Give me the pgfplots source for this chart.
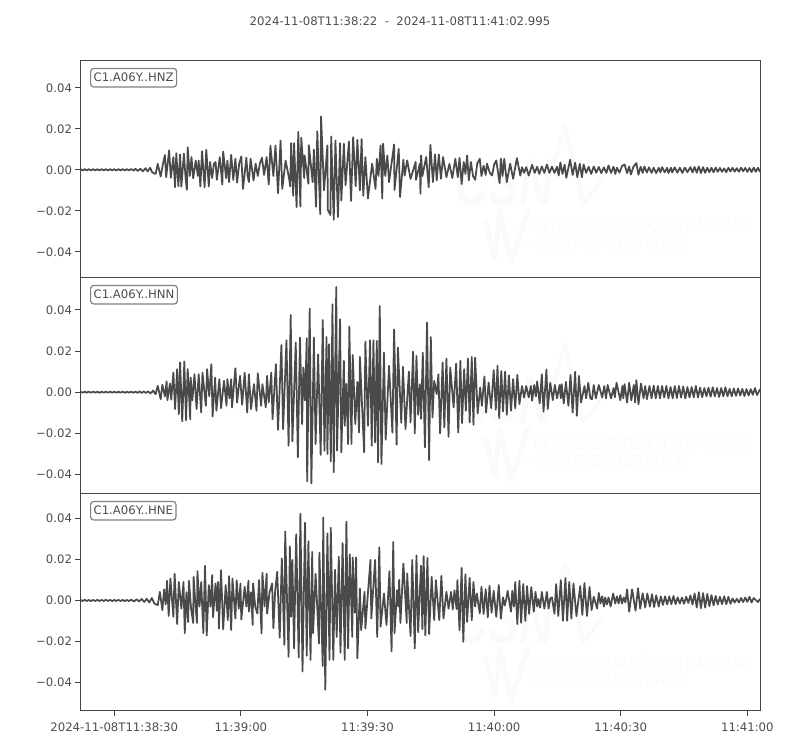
\documentclass[border=0pt]{standalone}
\usepackage{fontspec}
\setmainfont{DejaVu Sans}
\newfontfamily\wmfont{Liberation Sans}
\usepackage{pgfplots}
\pgfplotsset{compat=1.18}
\definecolor{trace}{HTML}{4A4A4A}
\definecolor{spine}{HTML}{454545}
\definecolor{txt}{HTML}{4D4D4D}
\definecolor{wm}{HTML}{FAFAFA}
\newcommand\tfont{\fontsize{11.7pt}{14pt}\selectfont}
% faint logo behind each trace
\newcommand\wmark[1]{%
  \begin{scope}[yshift=#1]
  \draw[wm,line width=5pt,line join=round] (rel axis cs:.595,.270)--(rel axis cs:.610,.094)--(rel axis cs:.617,.309)--(rel axis cs:.634,.07)--(rel axis cs:.659,.316);
  \draw[wm,line width=4pt,line join=round] (rel axis cs:.684,.386)--(rel axis cs:.713,.700)--(rel axis cs:.740,.339)--(rel axis cs:.767,.447);
  \node[wm,font=\wmfont\bfseries\itshape\fontsize{46pt}{50pt}\selectfont,yscale=1.45,transform shape] at (rel axis cs:.623,.438) {CSN};
  \node[wm,anchor=west,font=\wmfont\itshape\fontsize{18pt}{20pt}\selectfont,xscale=.71,transform shape] at (rel axis cs:.664,.247) {CENTRO SISMOLÓGICO NACIONAL};
  \node[wm,anchor=west,font=\wmfont\itshape\fontsize{18pt}{20pt}\selectfont,xscale=.71,transform shape] at (rel axis cs:.664,.158) {UNIVERSIDAD DE CHILE};
  \end{scope}}
\pgfplotsset{seis/.style={
  scale only axis, anchor=south west, width=679.5pt,
  xmin=0, xmax=160.995,
  axis line style={spine,line width=1pt},
  tick style={spine,line width=.8pt},
  tick align=outside, major tick length=5pt,
  ticklabel style={txt,font=\tfont},
  xticklabel style={yshift=-3.5pt},
  ytick={-40,-20,0,20,40},
  yticklabels={−0.04,−0.02,0.00,0.02,0.04},
  ytick pos=left, xtick pos=bottom,
  clip=true,
  trc/.style={trace,line width=1.75pt,line join=round,mark=none},
}}
\newcommand\chan[1]{\node[draw=gray,rounded corners=3pt,line width=1.2pt,fill=white,text=txt,font=\tfont,anchor=north west,inner sep=3pt,text height=10pt,text depth=2.5pt] at (rel axis cs:.014,.966) {#1};}
\begin{document}
\begin{tikzpicture}[x=1pt,y=1pt]
\path[use as bounding box] (0,0) rectangle (800,750);
\node[txt,font=\tfont] at (400,729) {2024-11-08T11:38:22\ \ -\ \ 2024-11-08T11:41:02.995};

\begin{axis}[seis, at={(80.5pt,472.5pt)}, height=217pt, ymin=-52.5, ymax=53.3, xtick=\empty]
\wmark{0pt}
\addplot[trc] coordinates {
(0,.3)(.5,-.3)(1,.3)(1.5,-.3)(2,.3)(2.5,-.3)(3,.3)(3.5,-.3)(4,.3)(4.5,-.3)(5,.3)(5.5,-.3)(6,.3)(6.5,-.3)(7,.3)(7.5,-.3)(8,.3)(8.5,-.3)(9,.3)(9.5,-.3)(10,.3)(10.5,-.3)(11,.3)(11.5,-.3)
(12,.4)(12.6,-.4)(13,.5)(13.6,-.5)(14.2,.5)(14.8,-.7)(15.4,.8)(15.9,-.8)(16.5,1)(17,-1.3)
(17.8,-2)(18.3,2.9)(19,-3.3)(19.5,2.5)(20,7.2)(20.3,-3.6)(21,9.5)(21.4,-3.9)(22,6.2)(22.4,-8.5)
(22.7,8.1)(23.2,-8)(23.6,7.5)(23.9,-8.2)(24.5,7.9)(24.9,-4)(25.2,-9.8)(25.4,11)(25.9,-3)(26.3,6.2)
(26.7,-4.2)(27.3,4.5)(27.8,-3)(28,4.5)(28.4,-8.1)(28.8,9.1)(29.4,-8.5)(29.8,9.8)(30.4,-8.1)(30.7,3.8)
(31.2,-4)(31.6,3)(32,3.8)(32.3,-4.9)(33,6.2)(33.6,-7.2)(33.8,8.9)(34.5,-4)(34.8,4.5)(35.2,-6)
(35.7,7.3)(36.2,-5)(36.7,5.4)(37.1,-6.2)(37.6,3)(38.1,6.5)(38.5,-9.3)(39.3,5.9)(39.6,-3)(39.9,-6)(40.3,5.4)(41,-5.2)
(41.5,3)(42,-3)(42.5,3)(43,5.9)(43.5,-2.5)(44.1,6.2)(44.6,-7.2)(45,11.7)(45.7,-3)(46.2,11.9)
(46.8,-11.4)(47.4,14.3)(47.8,-9.3)(48.6,4.5)(49.4,-4)(49.7,-8.1)(49.9,13)(50.4,-12.6)(50.6,13)(51.2,-18.2)
(51.6,18.5)(52.1,-17.9)(52.3,15.6)(53,-4)(53.1,7)(54,-6.8)(54.1,12)(55,-6)(55.3,9.8)(55.8,-18)
(56.1,18.8)(56.8,-21.7)(57,26)(57.7,-10)(58.5,11.9)(58.6,-19.5)(59.2,-22)(59.4,16.3)(60,-24.4)(60.4,14.3)
(61,-23)(61.5,13)(61.8,-15)(62.4,12.7)(62.8,-7.5)(63.6,13.8)(64.1,-15.2)(64.6,15.9)(65.2,-8)(65.6,14.6)
(66.2,-10)(66.6,15)(67,-12.6)(67.5,6.2)(68.1,-14)(69.1,3)(69.9,-9.3)(70.2,5.4)(70.6,-3)(71.1,11.9)(71.5,-14)
(71.7,12.7)(72.2,-3)(72.7,7)(73.1,-6)(74.3,12.4)(74.4,-9.8)(75.4,10.2)(75.7,-13.3)(76.5,4.9)(76.8,-2.8)
(77.4,4.6)(78.2,-4.4)(79.4,3.8)(79.5,-4.9)(80.4,3)(80.55,-11.7)
(80.7,7)(81,-3)(81.9,6.2)(82.5,-8.5)(82.9,12.2)(83.5,-6)(84,7.5)(84.4,-5.2)(84.9,7.5)(85.4,-4.4)
(85.9,6.2)(86.7,-3.6)(87.4,2.9)(88.1,-4)(88.8,5.4)(89.4,-3.6)(89.8,5.9)(90.3,-7)(90.8,3.8)(91.2,-2)
(91.6,7)(92,-5.2)(92.5,3.8)(93,-3)(93.5,-4.9)(94,3)(94.6,5.4)(95,-3)(95.5,2)(96,-2.5)(96.3,3)(97,-1.5)(97.5,-2.8)
(98,2.5)(98.5,4.6)(99.3,-6.5)(99.6,5.4)(100,-3)(100.4,5.4)(101,-6)(101.8,3)(102.5,-4.4)(103.4,5.7)(104.2,-2.8)
(104.6,1.3)(105.1,-1.5)(105.6,1.3)(106.2,-2.8)(107,2.4)(107.6,-1.5)(108.2,1.5)(108.7,-2)(109.3,1.6)(109.9,-1.5)
(110.5,2.6)(111.1,-1.5)(111.7,1.5)(112.3,-1.5)(112.9,1.5)(113.3,-2.8)(113.7,3.6)(114.2,-2)(114.7,2.5)(115.1,-3.9)
(116,4.9)(116.6,-2.5)(117.2,3.5)(117.7,-3.6)(118.3,3)(118.8,-3.6)(119.2,2.6)(119.8,-1.5)(120.4,1.5)(121,-2)
(121.6,1.6)(122.2,-1.4)(122.8,1.4)(123.4,-1.6)(124,1.2)(124.6,-1.5)(125.1,2.1)(125.7,-1.5)(126.3,1.5)(126.7,-2)
(127.1,1)(127.7,-1.4)(128.3,1.8)(128.9,2.6)(129.5,-1.6)(130,1.6)(130.4,-2.3)(131,1.5)(131.7,3.3)(132.2,-2.4)
(132.7,1.5)(133.2,-1.5)(133.6,1.6)(134.2,-1.3)(134.7,1.2)(135.3,-1.5)(135.8,1)(136.4,-1.6)(137,1)(137.4,-1.3)
(137.8,1.3)(138.4,-1.2)(139,1)(139.3,-1.6)(139.9,1)(140.2,-1.3)(140.8,1.2)(141.4,-1.4)(142,1)(142.6,-1.5)
(143.2,1.1)(143.8,-1.2)(144.5,1.3)(145,-1.3)(145.5,1.4)(146,-1.4)(146.5,1.6)(147,-1.6)(147.5,1.3)(148,-1.5)
(148.5,1)(149,-1.2)(149.5,1)(150,-1.2)(150.5,1.1)(151,-1)(151.5,.9)(152,-1)(152.5,.7)(153,-1.2)
(153.5,1)(154,-.8)(154.5,1)(155,-.9)(155.5,.8)(156,-1)(156.5,1)(157,-.7)(157.5,.9)(158,-1)
(158.5,.9)(159,-1.1)(159.5,1.1)(160,-1)(160.5,1)(161,-1)
};
\chan{C1.A06Y..HNZ}
\end{axis}

\begin{axis}[seis, at={(80.5pt,256.5pt)}, height=216pt, ymin=-49.2, ymax=55.7, xtick=\empty]
\wmark{-2pt}
\addplot[trc] coordinates {
(0,.25)(.5,-.25)(1,.25)(1.5,-.25)(2,.3)(2.5,-.25)(3,.25)(3.5,-.25)(4,.25)(4.5,-.3)(5,.25)(5.5,-.25)(6,.25)(6.5,-.25)(7,.3)(7.5,-.25)(8,.25)(8.5,-.25)(9,.25)(9.5,-.25)(10,.25)(10.5,-.3)(11,.25)(11.5,-.25)
(12,.3)(12.5,-.3)(13,.3)(13.5,-.3)(14,.35)(14.5,-.35)(15,.35)(15.5,-.4)(16,.4)(16.6,-.6)(17.2,.8)
(17.8,-1)(18.3,3.1)(19,-3.4)(19.4,3.6)(20,-2)(20.4,5.2)(20.6,-3.9)(21.2,4.2)(21.5,-3.7)(22,9.5)
(22.4,-8.2)(22.9,11.2)(23.3,-10.7)(23.6,14.5)(24.1,-14.2)(24.6,14.9)(25,-13.6)(25.4,11.2)(26,-13.1)(26.1,7.1)
(26.5,-4)(27,8.7)(27.5,-8.2)(28,8.7)(28.6,-9.9)(28.9,9.5)(29.7,-6.6)(30,11.2)(30.5,-2)(31,13.6)
(31.3,-11.8)(31.9,7.1)(32.2,-9)(32.9,6.3)(33.3,-7.8)(34,5.5)(34.6,-6.6)(34.8,6.3)(35.3,-3)(35.7,6.3)
(35.9,-7.4)(36.7,11.6)(37.1,-5)(37.8,7.9)(38.3,-6.1)(38.9,9.5)(39.5,-9.9)(39.9,8.7)(40.4,-8.2)(41.1,3.9)
(41.7,-9)(42,9.2)(42.8,-6.6)(43.1,3.9)(43.9,-7.4)(44.2,7.9)(44.6,-5)(45.2,9.5)(45.5,-13.1)(46.3,13.6)
(46.8,-18.3)(47.6,22.9)(48,-17.9)(48.8,25.2)(49.3,-26)(49.8,37.5)(50.2,-23.9)(51,24.1)(51.5,-31.7)(52,26.5)
(52.5,-15.5)(52.8,12)(53.2,-4)(53.6,26.2)(53.7,-43.3)(54.3,40.6)(54.7,-44.3)(55.3,26.5)(55.7,-25.2)(56.3,18.4)
(56.9,-30.4)(57.4,35.1)(57.8,-28.4)(58.3,26.8)(58.5,-30)(58.9,23.3)(59.3,-33.6)(59.7,42.7)(60,-38.9)(60.6,51.1)
(60.8,-28.4)(61.5,35.4)(61.8,-29.2)(62.4,15.2)(62.6,-16.3)(63,4)(63.4,-25.2)(63.7,31.8)(64.2,-25.2)(64.5,18.1)
(65.1,-15.5)(65.6,5)(66,-19.6)(66.2,17.1)(67.2,-29.2)(67.5,24.6)(68.1,-16.3)(68.6,25.2)(69,-26)(69.4,25.2)
(69.8,-24.4)(70.2,24.9)(70.5,-34.1)(70.9,41.9)(71.3,-34.9)(71.9,19.2)(72.3,-23.1)(73.1,12.8)(73.9,-19.6)(74.3,30.5)
(74.9,-25.5)(75.2,21.7)(76,-14.9)(76.4,12.3)(77,-17.9)(77.8,10)(78.2,-14.7)(78.8,19.7)(79.2,-20)(79.6,17.6)
(80,-11)(80.4,3.9)(80.7,-13)
(81.1,19.2)(81.6,-26.8)(82.1,33.8)(82.6,-33)(83,26.8)(83.4,-12.3)(83.8,5.5)(84.4,-1)(84.8,8.7)(85.2,-20)
(85.8,14.4)(86.2,-17.1)(86.7,16.3)(87.2,-21.7)(87.6,12)(88.4,-7.4)(89,13.9)(89.5,-19.6)(90,15.2)(90.4,-15)
(90.9,11.2)(91.3,-9)(91.8,16.3)(92.2,-14.7)(92.7,17.1)(93.1,-15.8)(93.5,16.8)(94.1,-10.3)(94.7,2.3)(95.1,-6.6)
(95.7,7.6)(96.1,-9.9)(96.7,4.7)(97.3,-7.8)(97.9,10.7)(98.4,-8.5)(98.8,12.8)(99.2,-12.6)(99.7,10.3)(100.1,-9.4)
(100.6,10)(101,-11)(101.5,8.2)(102,-9)(102.5,6.3)(103,-7.8)(103.5,8.4)(104,-5.8)(104.6,3)(105.1,-2.6)
(105.6,3)(106.2,-2.5)(106.7,3)(107,-4.2)(107.5,3.5)(107.9,-2)(108.2,5.2)(108.8,-5.5)(109.3,8.7)(109.7,-9.5)
(110.4,11)(110.7,-8.2)(111.3,4.6)(111.9,-3.9)(112.4,3.5)(112.9,-3)(113.5,3.5)(113.8,-3)(114,3.9)(114.5,-5.5)
(115,5)(115.6,-6.6)(116.1,8.4)(116.6,-9.9)(117.2,9.9)(117.6,-11.5)(118.1,7.9)(118.6,-5)(119.4,3)(119.8,-3)
(120.3,4.6)(120.8,-3)(121.2,-3.4)(121.6,3.5)(122.1,-3)(122.8,3.5)(123.6,-2.6)(124.1,3)(124.5,-3)(124.9,3.5)
(125.7,-3)(126.3,2)(126.6,-2.5)(127,4.6)(127.9,-3.9)(128.4,3)(128.6,-3)(128.9,3.9)(129.5,-5)(130,4.6)
(130.5,-4)(131.1,3.5)(131.4,-5)(131.7,5.8)(132.2,-5.9)(132.8,4.2)(133.4,-3)(133.8,3)(134.2,-3.4)(134.8,3)
(135.3,-3)(135.8,3.2)(136.3,-3)(136.8,3)(137.3,-3)(137.8,3)(138.3,-2.6)(138.8,3)(139.3,-3)(139.8,2.5)
(140.3,-3)(140.8,3)(141.3,-2.8)(141.8,3)(142.3,-2.6)(142.8,2.8)(143.3,-3)(143.8,2.5)(144.3,-2.6)(144.8,2.5)
(145.3,-2.5)(145.8,3)(146.3,-2.6)(146.8,2.2)(147.3,-2.4)(147.8,2)(148.3,-2)(148.8,2.2)(149.3,-2.2)(149.8,2.4)
(150.3,-2)(150.8,2)(151.3,-2.3)(151.8,2)(152.3,-2)(152.8,2.4)(153.3,-2)(153.8,1.6)(154.3,-2)(154.8,1.8)
(155.3,-1.8)(155.8,1.8)(156.3,-1.6)(156.8,1.6)(157.3,-1.9)(157.8,1.5)(158.3,-1.6)(158.8,1.5)(159.3,-1.3)(159.8,2)
(160.3,-1.4)(160.995,1.4)
};
\chan{C1.A06Y..HNN}
\end{axis}

\begin{axis}[seis, at={(80.5pt,39.5pt)}, height=217pt, ymin=-53.7, ymax=52.2,
  xtick={8,38,68,98,128,158},
  xticklabels={2024-11-08T11:38:30,11:39:00,11:39:30,11:40:00,11:40:30,11:41:00}]
\wmark{-5pt}
\addplot[trc] coordinates {
(0,.25)(.5,-.25)(1,.3)(1.5,-.25)(2,.25)(2.5,-.3)(3,.25)(3.5,-.25)(4,.3)(4.5,-.25)(5,.25)(5.5,-.25)(6,.3)(6.5,-.25)(7,.25)(7.5,-.3)(8,.25)(8.5,-.25)(9,.3)(9.5,-.25)(10,.25)(10.5,-.3)(11,.25)(11.5,-.3)
(12,.4)(12.7,-.5)(13.3,.6)(13.9,-.5)(14.5,.7)(15.1,-.7)(15.7,.8)(16.3,-1)(16.9,1.2)(17.5,-1.5)
(18.3,-2.3)(18.8,4.2)(19.4,-4.7)(19.8,5.4)(20.2,-2)(20.5,9.6)(20.9,-7.6)(21.3,10.7)(22,-8)(22.3,13)
(22.9,-11.5)(23.3,9)(23.9,-4)(24.4,9)(24.7,-16)(25.1,4)(25.5,-10.6)(25.7,9.6)(26.2,-4)(26.7,-11)
(26.8,11.5)(27.3,-4)(27.6,-11)(27.7,14.3)(28.2,-3)(28.6,9)(29.1,-16)(29.5,16.9)(29.9,-17.1)(30.4,7.5)
(30.8,-3)(31.2,12.4)(31.4,-8.2)(32,8.3)(32.3,-5)(32.6,9.1)(32.8,-13.7)(33.3,14.8)(33.8,-14.1)(34.4,7.5)
(34.9,-9.6)(35.2,11.9)(35.7,-14.5)(36,10.7)(36.7,-8.8)(37,9.8)(37.5,-4)(37.9,8.3)(38.1,-9.3)(38.9,6.7)
(39.3,-3)(39.8,9.6)(39.9,-5.4)(40.4,4)(40.8,-12)(40.9,8.3)(41.4,-3)(41.9,-6.4)(42.3,10)(42.9,-16.1)
(43.1,13.5)(43.6,-3)(44.1,13)(44.2,-6.4)(44.8,4)(45.4,8.3)(45.7,-13.5)(46.1,4)(46.6,14)(47.2,-18.2)
(47.7,20.5)(48.3,-21.7)(48.5,33.7)(49.3,-27.5)(49.6,26.4)(49.9,-8)(50.2,19.8)(50.6,-23.4)(51.1,32.3)(51.7,-27.8)
(52.1,42.4)(52.6,-34.7)(53.2,37.9)(53.6,-27)(54,28.9)(54.5,-29)(54.9,23.7)(55.1,-16)(55.7,13)(56.5,-21)
(56.6,23.3)(57.4,-32)(57.5,40.5)(58,-43.6)(58.5,32.7)(59,-29)(59.3,35.5)(59.9,-29)(60.3,15)(60.7,-17.8)
(61.2,21.3)(61.6,-25.5)(62.1,28)(62.6,-29)(63,38.5)(63.4,-23.4)(63.8,22.5)(64.4,-17.8)(64.5,21)(65,-6)
(65.3,21)(65.6,-28.2)(66.2,5.8)(66.5,-14.5)(67.3,4.2)(67.5,-13.7)(68.1,3.5)(68.7,19.8)(68.9,-8.8)(69.8,19.8)
(70.3,-17.8)(70.8,25.9)(71.1,-12.8)(71.9,3.4)(72.5,-12)(73.2,14.3)(73.7,-24.9)(74.1,28.5)(74.4,-16)(75,5)
(75.3,-3)(75.5,10.1)(75.8,-11)(76.5,18)(77.3,-11)(77.4,13.2)(78.2,-17.4)(78.6,19.8)(79.2,-23.4)(79.6,22)
(80,-15.5)(80.4,5)
(80.7,17)(81,-14)(81.3,21.6)(81.7,-17)(82.2,20.8)(82.6,-16.4)(83.2,11.5)(83.8,-9.6)(84.2,9.9)(85,-9.6)
(85.5,12)(86,-8.8)(86.7,4.2)(87.2,-4)(87.8,4.2)(88.2,-4.4)(88.6,5)(89.1,-4.2)(89.3,9.9)(89.8,-14.5)
(90.3,15.9)(90.7,-20.2)(91.2,12.8)(91.6,-10.4)(92.2,11)(92.7,-9.6)(93.1,9)(93.5,-3)(93.9,3.4)(94.6,-6.3)
(95,6.7)(95.5,-6.6)(96,5.5)(96.5,-8.3)(96.9,7.2)(97.4,-6)(97.9,4.7)(98.5,-8)(99.1,7.5)(99.6,-8.8)
(100.1,1.5)(100.5,-2.5)(100.9,1)(101.2,4.7)(102,-5.5)(102.3,4.7)(102.7,-3)(103,9)(103.5,-11.5)(104,9.6)
(104.4,-10.9)(104.9,8)(105.4,-10)(105.8,7)(106.3,-6.5)(106.8,6.5)(107.4,-5.5)(107.8,4.2)(108.2,-3)(108.5,.7)
(108.9,-3.5)(109.3,4.2)(109.9,-4)(110.5,4.2)(110.9,-4)(111.3,1)(111.7,1.5)(112.3,-6.5)(112.7,8)(113.2,-7.6)
(113.8,9.9)(114.3,-9.9)(114.9,11)(115.3,-9.9)(115.8,9)(116.3,-8.8)(116.8,8.3)(117.5,-7.6)(118.4,7)(118.9,-7)
(119.4,8.5)(120,-7.6)(120.6,6.6)(121.1,-4.7)(121.6,1.8)(122.4,-3.9)(122.8,3.7)(123.2,-1.5)(123.6,2)(124,-3)
(124.3,1.5)(124.7,-2)(125.1,1.5)(125.6,-3)(126.2,3.4)(126.7,-1.5)(127.1,2)(127.5,-1.5)(127.9,2.6)(128.3,-1.5)
(128.7,1.5)(129.1,-1)(129.5,5.4)(130,-5.5)(130.7,5.4)(131.5,-5)(132.1,6)(132.6,-4)(133.2,3.5)(133.8,-3.4)
(134.3,3.4)(134.9,-3)(135.4,3)(135.9,-3.2)(136.4,2.5)(137,-3)(137.5,2)(138,-2.2)(138.5,2)(139,-2)
(139.5,2)(140,-1.8)(140.5,2.2)(141,-1.8)(141.5,1.5)(142,-1.5)(142.5,1.4)(143,-1.6)(143.5,1.8)(144,-1.2)
(144.5,2.5)(145,-2)(145.5,3.4)(146,-3.4)(146.5,4)(147,-3.8)(147.5,3.6)(148,-3.5)(148.5,3.2)(149,-2.8)
(149.5,2.6)(150,-2.4)(150.5,2.2)(151,-2)(151.5,1.8)(152,-1.8)(152.5,2)(153,-1.8)(153.5,1.8)(154,-1.6)
(154.5,1)(155,-1)(155.5,.8)(156,-1)(156.5,1.2)(157,-.8)(157.5,1.4)(158,-.7)(158.5,1.8)(159,-1)
(159.5,1.2)(160.5,-.8)(160.995,.8)
};
\chan{C1.A06Y..HNE}
\end{axis}
\end{tikzpicture}
\end{document}
